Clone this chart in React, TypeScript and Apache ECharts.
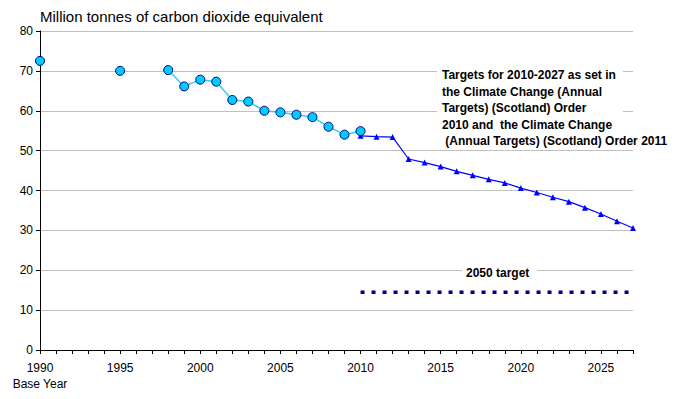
import React, { useEffect, useRef } from "react";
import * as echarts from "echarts";

const actualYears = [1990, 1991, 1992, 1993, 1994, 1995, 1996, 1997, 1998, 1999, 2000, 2001, 2002, 2003, 2004, 2005, 2006, 2007, 2008, 2009, 2010];
const actualValues: (number | null)[] = [72.5, null, null, null, null, 70.0, null, null, 70.2, 66.1, 67.8, 67.3, 62.7, 62.3, 60.0, 59.6, 59.0, 58.4, 56.0, 54.0, 54.9];

const targetYears = [2010, 2011, 2012, 2013, 2014, 2015, 2016, 2017, 2018, 2019, 2020, 2021, 2022, 2023, 2024, 2025, 2026, 2027];
const targetValues = [53.7, 53.5, 53.4, 47.9, 47.0, 46.0, 44.8, 43.8, 42.8, 41.9, 40.6, 39.5, 38.3, 37.2, 35.7, 34.1, 32.3, 30.6];

const target2050Years = [2010, 2027];
const target2050Value = 14.5;

const yTicks = [0, 10, 20, 30, 40, 50, 60, 70, 80];

const titleText = "Million tonnes of carbon dioxide equivalent";
const annotationLines = [
  "Targets for 2010-2027 as set in",
  "the Climate Change (Annual",
  "Targets) (Scotland) Order",
  "2010 and  the Climate Change",
  " (Annual Targets) (Scotland) Order 2011",
];
const target2050Label = "2050 target";

const FONT = "Liberation Sans, Arial, sans-serif";

export default function App() {
  const ref = useRef<HTMLDivElement>(null);
  useEffect(() => {
    if (!ref.current) return;
    const chart = echarts.init(ref.current, null, { renderer: "svg" });
    const actualData = actualYears.map((y, i) => [y, actualValues[i]]);
    const targetData = targetYears.map((y, i) => [y, targetValues[i]]);
    const t2050Data = target2050Years.map((y) => [y, target2050Value]);
    chart.setOption({
      animation: false,
      backgroundColor: "#ffffff",
      textStyle: { fontFamily: FONT },
      grid: { left: 40, right: 57, top: 31, bottom: 49, containLabel: false },
      xAxis: {
        type: "value",
        min: 1990,
        max: 2027,
        interval: 1,
        axisLine: { show: true, onZero: false, lineStyle: { color: "#000000", width: 1 } },
        axisTick: { show: true, inside: false, length: 4, lineStyle: { color: "#000000" } },
        splitLine: { show: false },
        axisLabel: {
          color: "#000000",
          fontSize: 12,
          fontFamily: FONT,
          margin: 10,
          lineHeight: 16,
          showMaxLabel: true,
          formatter: (v: number) => {
            if (v === 1990) return "1990\nBase Year";
            if ((v - 1990) % 5 === 0) return String(v);
            return "";
          },
        },
      },
      yAxis: {
        type: "value",
        min: yTicks[0],
        max: yTicks[yTicks.length - 1],
        interval: 10,
        axisLine: { show: true, lineStyle: { color: "#000000", width: 1 } },
        axisTick: { show: true, inside: false, length: 4, lineStyle: { color: "#000000" } },
        splitLine: { show: true, lineStyle: { color: "#c0c0c0", width: 1 } },
        axisLabel: { color: "#000000", fontSize: 12, fontFamily: FONT, margin: 7 },
      },
      series: [
        {
          name: "Actual",
          type: "line",
          data: actualData,
          connectNulls: false,
          symbol: "circle",
          symbolSize: 9,
          lineStyle: { color: "#33ccff", width: 1.5 },
          itemStyle: { color: "#00ccff", borderColor: "#000080", borderWidth: 1 },
          z: 5,
        },
        {
          name: "Targets",
          type: "line",
          data: targetData,
          symbol: "triangle",
          symbolSize: 6,
          lineStyle: { color: "#0000ff", width: 1.2 },
          itemStyle: { color: "#0000ff" },
          z: 4,
        },
        {
          name: "2050 target",
          type: "line",
          data: t2050Data,
          symbol: "none",
          lineStyle: { color: "#000080", width: 3.5, type: [4, 7] },
          z: 3,
        },
      ],
      graphic: [
        {
          type: "text",
          left: 40,
          top: 9,
          style: { text: titleText, font: `15px ${FONT}`, fill: "#000000" },
        },
        {
          type: "rect",
          shape: { x: 437, y: 66, width: 186, height: 84 },
          style: { fill: "#ffffff" },
          z: 10,
        },
        {
          type: "text",
          x: 442,
          y: 67,
          z: 11,
          style: {
            text: annotationLines.join("\n"),
            font: `bold 12px ${FONT}`,
            lineHeight: 16.5,
            fill: "#000000",
          },
        },
        {
          type: "rect",
          shape: { x: 462, y: 265, width: 75, height: 10 },
          style: { fill: "#ffffff" },
          z: 10,
        },
        {
          type: "text",
          x: 466,
          y: 267,
          z: 11,
          style: { text: target2050Label, font: `bold 12px ${FONT}`, fill: "#000000" },
        },
      ],
    });
    return () => chart.dispose();
  }, []);
  return <div ref={ref} style={{ width: 690, height: 399, margin: -8 }} />;
}
